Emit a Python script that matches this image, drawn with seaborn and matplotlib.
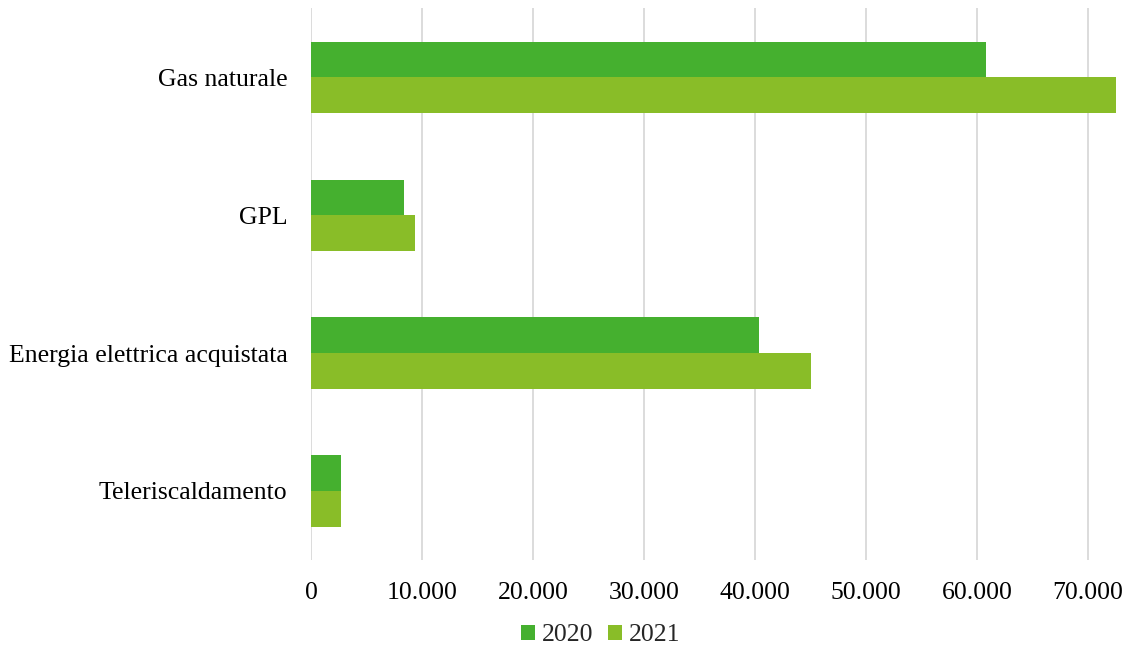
import pandas as pd
import matplotlib
matplotlib.use("Agg")
import matplotlib.pyplot as plt
import seaborn as sns
from matplotlib.ticker import FuncFormatter, MultipleLocator

# data
categories = ["Gas naturale", "GPL", "Energia elettrica acquistata", "Teleriscaldamento"]
years = ["2020", "2021"]
values_2020 = [60870, 8410, 40390, 2680]
values_2021 = [72500, 9370, 45020, 2680]
colors = ["#45B02F", "#89BD28"]

df = pd.DataFrame({
    "categoria": categories * 2,
    "anno": [years[0]] * 4 + [years[1]] * 4,
    "valore": values_2020 + values_2021,
})

sns.set_theme(style="white")
plt.rcParams["font.family"] = ["Liberation Serif", "DejaVu Serif"]

fig = plt.figure(figsize=(11.29, 6.47), dpi=100)
ax = fig.add_axes([0.2755, 0.1345, 0.7175, 0.853])

sns.barplot(data=df, y="categoria", x="valore", hue="anno", order=categories,
            hue_order=years, palette=colors, width=0.515, saturation=1,
            orient="h", ax=ax, legend=True, linewidth=0)

ax.set_xlim(0, 73000)
ax.xaxis.set_major_locator(MultipleLocator(10000))
ax.xaxis.set_major_formatter(FuncFormatter(lambda v, p: f"{int(v):,}".replace(",", ".")))
ax.grid(axis="x", color="#D9D9D9", linewidth=1.3)
ax.set_axisbelow(True)
for s in ax.spines.values():
    s.set_visible(False)
ax.set_xlabel("")
ax.set_ylabel("")
ax.tick_params(axis="both", length=0, labelsize=18.5, colors="black")
ax.tick_params(axis="y", pad=17)
ax.tick_params(axis="x", pad=16)

handles, labels = ax.get_legend_handles_labels()
ax.get_legend().remove()
fig.legend(handles, labels, loc="center", bbox_to_anchor=(0.532, 0.018), ncol=2,
           frameon=False, fontsize=18.5, handlelength=0.55, handleheight=0.55,
           handletextpad=0.25, columnspacing=0.6)

fig.savefig("out.png", dpi=100)
